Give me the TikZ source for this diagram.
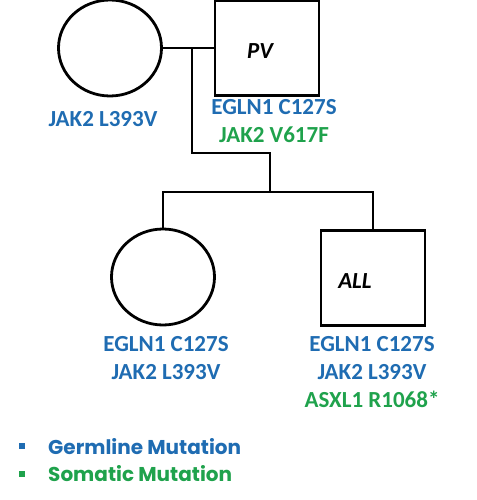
\documentclass[tikz,border=0pt]{standalone}
\usepackage{fontspec}
\setmainfont{Carlito}
\newfontfamily\labelfont{Carlito}
\newfontfamily\legendfont{Poppins}
\usetikzlibrary{shapes.geometric,positioning}
\definecolor{germblue}{HTML}{1F6CB2}
\definecolor{somgreen}{HTML}{1FA24C}
\tikzset{
  female/.style={draw, ellipse, line width=2.8pt, minimum width=103pt, minimum height=96pt},
  male/.style={draw, rectangle, line width=2.8pt, minimum width=104pt, minimum height=95pt},
  link/.style={line width=2.8pt},
  mutlabel/.style={align=center, inner sep=0pt, font=\fontsize{23}{28}\selectfont\labelfont\bfseries},
  diag/.style={font=\fontsize{23}{26}\selectfont\labelfont\bfseries\itshape},
  legend/.style={anchor=west, inner sep=0pt, font=\fontsize{20}{24}\selectfont\legendfont\bfseries},
  bullet/.style={fill, minimum size=6pt, inner sep=0pt}
}
\begin{document}
\begin{tikzpicture}[x=1pt, y=-1pt]
\useasboundingbox (0,0) rectangle (476,500);
% parents
\node[female] (mother) at (110,48) {};
\node[male] (father) at (267,48) {};
\node[diag] (pv) at ([xshift=-7pt,yshift=-3pt]father.center) {PV};
\draw[link] (mother.east) -- (father.west);

% children
\node[female] (daughter) at (163,277) {};
\node[male] (son) at (373,278) {};
\node[diag] (all) at ([xshift=-18pt,yshift=-3pt]son.center) {ALL};

% lines of descent
\coordinate (mate) at (192,48);
\coordinate (drop) at (270,153);
\coordinate (sibs) at (270,192);
\draw[link] (mate) |- (drop) -- (sibs);
\draw[link] (daughter.north) |- (sibs) -| (son.north);

% mutations
\node[mutlabel, text=germblue] (motherlbl) at (103,119) {JAK2 L393V};
\node[mutlabel, anchor=north] (fatherlbl) at (274,99)
  {\textcolor{germblue}{EGLN1 C127S}\\\textcolor{somgreen}{JAK2 V617F}};
\node[mutlabel, anchor=north] (daughterlbl) at (166,336)
  {\textcolor{germblue}{EGLN1 C127S}\\\textcolor{germblue}{JAK2 L393V}};
\node[mutlabel, anchor=north] (sonlbl) at (372,336)
  {\textcolor{germblue}{EGLN1 C127S}\\\textcolor{germblue}{JAK2 L393V}\\\textcolor{somgreen}{ASXL1 R1068*}};

% legend
\node[bullet, fill=germblue] (germdot) at (22,446) {};
\node[legend, text=germblue] (germtxt) at (48,447) {Germline Mutation};
\node[bullet, fill=somgreen] (somdot) at (22,474) {};
\node[legend, text=somgreen] (somtxt) at (48,474) {Somatic Mutation};
\end{tikzpicture}
\end{document}
